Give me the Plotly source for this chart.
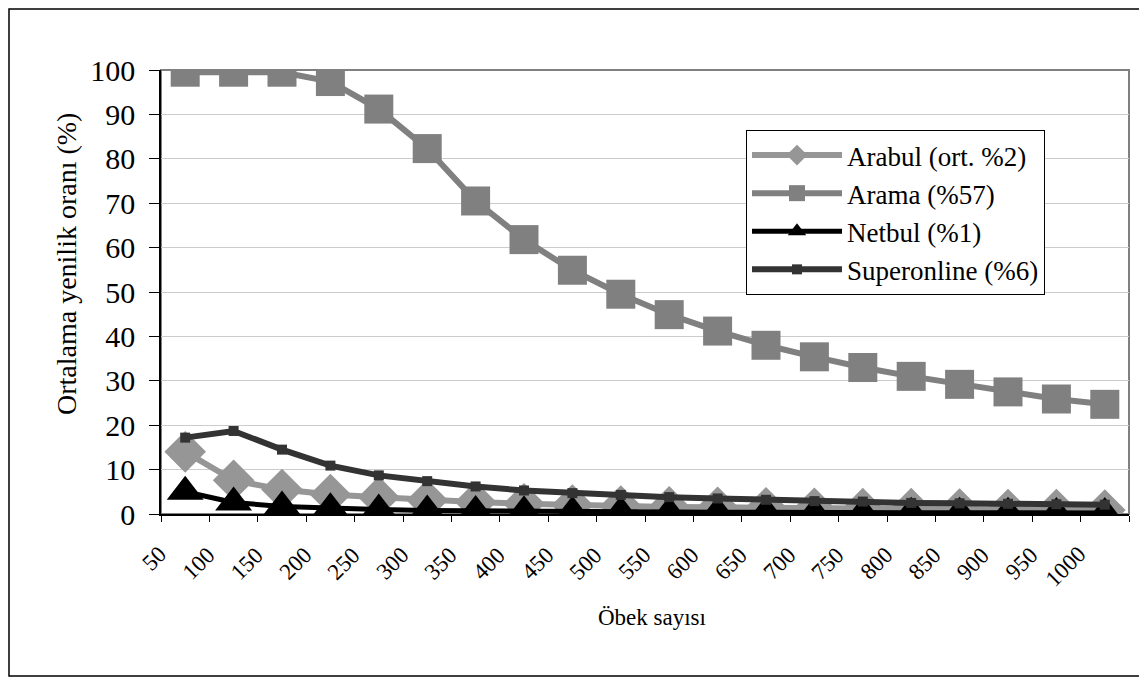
import plotly.graph_objects as go

categories = ["50", "100", "150", "200", "250", "300", "350", "400", "450", "500",
              "550", "600", "650", "700", "750", "800", "850", "900", "950", "1000"]

arabul = [14.0, 7.6, 5.5, 4.4, 3.8, 3.1, 2.7, 2.3, 2.0, 1.8,
          1.6, 1.5, 1.4, 1.3, 1.2, 1.2, 1.1, 1.0, 1.0, 0.9]
arama = [99.5, 99.5, 99.5, 97.4, 91.2, 82.3, 70.5, 61.8, 54.9, 49.5,
         44.9, 41.2, 38.0, 35.4, 33.0, 31.0, 29.2, 27.5, 25.9, 24.7]
netbul = [5.0, 2.6, 1.7, 1.3, 1.0, 0.8, 0.7, 0.6, 0.5, 0.5,
          0.4, 0.4, 0.4, 0.3, 0.3, 0.3, 0.3, 0.3, 0.2, 0.2]
superonline = [17.2, 18.7, 14.5, 10.9, 8.7, 7.4, 6.2, 5.3, 4.7, 4.3,
               3.8, 3.5, 3.2, 2.9, 2.8, 2.5, 2.4, 2.3, 2.2, 2.1]

names = ["Arabul (ort. %2)", "Arama (%57)", "Netbul (%1)", "Superonline (%6)"]
y_ticks = list(range(0, 101, 10))

FONT = "Liberation Serif"

fig = go.Figure()
fig.add_trace(go.Scatter(
    x=categories, y=arabul, name=names[0], mode="lines+markers",
    line=dict(color="#969696", width=6),
    marker=dict(symbol="diamond", size=32, color="#969696")))
fig.add_trace(go.Scatter(
    x=categories, y=arama, name=names[1], mode="lines+markers",
    line=dict(color="#808080", width=6),
    marker=dict(symbol="square", size=29, color="#808080")))
fig.add_trace(go.Scatter(
    x=categories, y=netbul, name=names[2], mode="lines+markers",
    line=dict(color="#000000", width=5),
    marker=dict(symbol="triangle-up", size=32, color="#000000")))
fig.add_trace(go.Scatter(
    x=categories, y=superonline, name=names[3], mode="lines+markers",
    line=dict(color="#333333", width=6),
    marker=dict(symbol="square", size=10, color="#333333")))

# page geometry (the page body adds an 8px offset)
OFF = 8
W, H = 1147 - OFF, 679 - OFF
PL, PR, PT, PB = 161, 1129, 70, 514   # plot area in page pixels
L, R, T = PL - OFF, W - (PR - OFF), PT - OFF
B = H - (PB - OFF)
pw, ph = PR - PL, PB - PT

def px_x(x):
    return (x - PL) / pw

def px_y(y):
    return (PB - y) / ph

tick_annotations = [
    dict(text=c, x=i, xref="x", yref="paper", y=px_y(539),
         xanchor="right", yanchor="top", xshift=-11, showarrow=False,
         textangle=-45, font=dict(family=FONT, size=23, color="black"))
    for i, c in enumerate(categories)
]

fig.update_layout(
    width=W, height=H,
    margin=dict(l=L, r=R, t=T, b=B, pad=0),
    paper_bgcolor="white", plot_bgcolor="white",
    font=dict(family=FONT, color="black"),
    showlegend=True,
    legend=dict(
        x=px_x(746), y=px_y(130), xanchor="left", yanchor="top",
        bgcolor="white", bordercolor="#000000", borderwidth=1,
        font=dict(family=FONT, size=27, color="black"),
        itemwidth=90, tracegroupgap=0),
    xaxis=dict(
        type="category", range=[-0.5, 19.5],
        tickson="boundaries", ticks="outside", ticklen=6, tickcolor="black",
        showline=True, linecolor="black", linewidth=1.5,
        showgrid=False, showticklabels=False),
    yaxis=dict(
        range=[0, 100], tickvals=y_ticks, ticks="outside", ticklen=10,
        tickcolor="black", showline=True, linecolor="black", linewidth=1.5,
        showgrid=True, gridcolor="#cccccc", gridwidth=1, zeroline=False,
        ticklabelstandoff=8,
        tickfont=dict(family=FONT, size=30, color="black")),
    shapes=[
        dict(type="rect", xref="paper", yref="paper", x0=0, x1=1, y0=0, y1=1,
             line=dict(color="#808080", width=2), layer="below"),
        dict(type="rect", xref="paper", yref="paper",
             x0=px_x(OFF + 1), x1=px_x(1142), y0=px_y(676), y1=px_y(OFF + 1),
             line=dict(color="black", width=1.5), layer="below"),
    ],
    annotations=tick_annotations + [
        dict(text="Ortalama yenilik oranı (%)", xref="paper", yref="paper",
             x=px_x(66), y=px_y(264), showarrow=False, textangle=-90,
             font=dict(family=FONT, size=28, color="black"),
             xanchor="center", yanchor="middle"),
        dict(text="Öbek sayısı", xref="paper", yref="paper",
             x=px_x(652), y=px_y(617), showarrow=False,
             font=dict(family=FONT, size=23, color="black"),
             xanchor="center", yanchor="middle"),
    ],
)

fig.write_html("out.html")
